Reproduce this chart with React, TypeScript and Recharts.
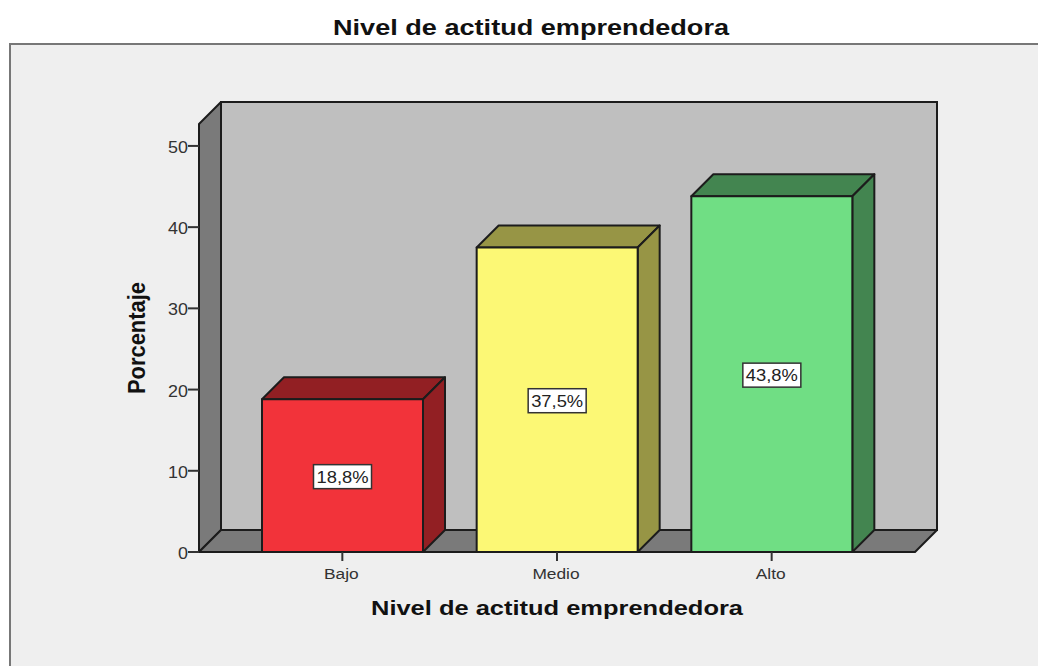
import React from "react";
import { BarChart, Bar, XAxis, YAxis, Customized, LabelList, usePlotArea } from "recharts";

const categories = ["Bajo", "Medio", "Alto"];
const percentages = [18.8, 37.5, 43.8];
const valueLabels = ["18,8%", "37,5%", "43,8%"];
const frontColors = ["#F2333A", "#FCF875", "#70DE84"];
const sideColors = ["#921F23", "#979545", "#438550"];
const yTicks = [0, 10, 20, 30, 40, 50];
const chartTitle = "Nivel de actitud emprendedora";
const xTitle = "Nivel de actitud emprendedora";
const yTitle = "Porcentaje";

const data = categories.map((name, i) => ({ name, value: percentages[i], label: valueLabels[i] }));

const DEPTH = 22;
const EDGE = "#1c1c1c";
const FONT = "'Liberation Sans', Arial, sans-serif";

function Backdrop() {
  const plot = usePlotArea();
  if (!plot) return null;
  const { x, y, width, height } = plot;
  const b = y + height;
  const r = x + width;
  return (
    <g>
      <rect x={10} y={44} width={1028} height={622} fill="#EFEFEF" />
      <path d="M1038 44 H10 V666" fill="none" stroke="#777" strokeWidth={2} />
      <text x={531} y={35} textAnchor="middle" fontFamily={FONT} fontWeight="bold" fontSize={22} fill="#111" textLength={396} lengthAdjust="spacingAndGlyphs">
        {chartTitle}
      </text>
      <text x={557} y={615} textAnchor="middle" fontFamily={FONT} fontWeight="bold" fontSize={20} fill="#111" textLength={372} lengthAdjust="spacingAndGlyphs">
        {xTitle}
      </text>
      <text x={145} y={338} textAnchor="middle" transform="rotate(-90 145 338)" fontFamily={FONT} fontWeight="bold" fontSize={23} fill="#111" textLength={112} lengthAdjust="spacingAndGlyphs">
        {yTitle}
      </text>
      <rect x={x + DEPTH} y={y - DEPTH} width={width} height={height} fill="#BFBFBF" stroke={EDGE} strokeWidth={2} />
      <path d={`M${x} ${y} L${x + DEPTH} ${y - DEPTH} V${b - DEPTH} L${x} ${b} Z`} fill="#7A7A7A" stroke={EDGE} strokeWidth={2} strokeLinejoin="round" />
      <path d={`M${x} ${b} L${x + DEPTH} ${b - DEPTH} H${r + DEPTH} L${r} ${b} Z`} fill="#7A7A7A" stroke={EDGE} strokeWidth={2} strokeLinejoin="round" />
    </g>
  );
}

function Box3D(props: any) {
  const { x, y, width, height, index } = props;
  const front = frontColors[index];
  const side = sideColors[index];
  const r = x + width;
  const b = y + height;
  return (
    <g stroke={EDGE} strokeWidth={2} strokeLinejoin="round">
      <path d={`M${x} ${y} L${x + DEPTH} ${y - DEPTH} H${r + DEPTH} L${r} ${y} Z`} fill={side} />
      <path d={`M${r} ${y} L${r + DEPTH} ${y - DEPTH} V${b - DEPTH} L${r} ${b} Z`} fill={side} />
      <rect x={x} y={y} width={width} height={height} fill={front} />
    </g>
  );
}

function ValueTag(props: any) {
  const { x, y, width, height, value } = props;
  const cx = x + width / 2;
  const cy = y + height / 2 + 1;
  return (
    <g>
      <rect x={cx - 29} y={cy - 12} width={58} height={24} fill="#fff" stroke="#333" strokeWidth={1.5} />
      <text x={cx} y={cy + 6} textAnchor="middle" fontFamily={FONT} fontSize={16} fill="#222" textLength={52} lengthAdjust="spacingAndGlyphs">
        {value}
      </text>
    </g>
  );
}

function XTick(props: any) {
  const { x, y, payload } = props;
  return (
    <text transform={`translate(${x - 1} ${y + 16}) scale(1.12 1)`} textAnchor="middle" fontFamily={FONT} fontSize={15.5} fill="#333">
      {payload.value}
    </text>
  );
}

function YTick(props: any) {
  const { x, y, payload } = props;
  return (
    <text transform={`translate(${x + 2} ${y + 7}) scale(1.12 1)`} textAnchor="end" fontFamily={FONT} fontSize={16} fill="#333">
      {payload.value}
    </text>
  );
}

export default function App() {
  return (
    <div style={{ position: "absolute", left: 0, top: 0, width: 1038, height: 666, background: "#fff", overflow: "hidden" }}>
      <BarChart
        width={1038}
        height={666}
        data={data}
        margin={{ top: 124, right: 123, bottom: 0, left: 0 }}
        barSize={161}
      >
        <Customized component={Backdrop} />
        <XAxis
          dataKey="name"
          padding={{ left: 36, right: 36 }}
          tickSize={9}
          tick={<XTick />}
          axisLine={{ stroke: EDGE, strokeWidth: 2 }}
          tickLine={{ stroke: "#333", strokeWidth: 2 }}
          height={114}
        />
        <YAxis
          domain={[0, 52.7]}
          ticks={yTicks}
          tickSize={11}
          width={199}
          allowDataOverflow
          tick={<YTick />}
          axisLine={{ stroke: EDGE, strokeWidth: 2 }}
          tickLine={{ stroke: "#333", strokeWidth: 2 }}
        />
        <Bar dataKey="value" isAnimationActive={false} shape={<Box3D />}>
          <LabelList dataKey="label" content={<ValueTag />} />
        </Bar>
      </BarChart>
    </div>
  );
}
